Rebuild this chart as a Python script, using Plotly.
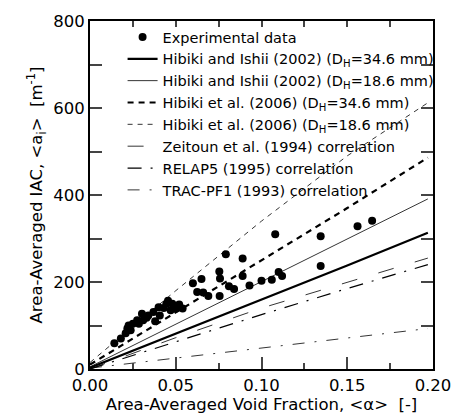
import plotly.graph_objects as go

# Experimental data (alpha, IAC)
exp_alpha = [0.0142, 0.018, 0.0208, 0.0218, 0.0225, 0.0237, 0.025, 0.0275, 0.0285, 0.0303,
             0.031, 0.033, 0.034, 0.037, 0.038, 0.040, 0.0407, 0.043, 0.0445, 0.0455,
             0.047, 0.048, 0.050, 0.052, 0.054, 0.060, 0.0625, 0.065, 0.066, 0.069,
             0.0756, 0.0754, 0.0758, 0.0792, 0.081, 0.084, 0.089, 0.089, 0.093, 0.100,
             0.106, 0.108, 0.110, 0.112, 0.1345, 0.1345, 0.156, 0.1645]
exp_iac = [59, 70, 82, 93, 100, 89, 104, 112, 104, 127,
           112, 118, 123, 131, 110, 142, 123, 140, 150, 157,
           135, 150, 139, 148, 139, 197, 177, 207, 176, 168,
           168, 224, 208, 264, 190, 184, 254, 214, 192, 203,
           205, 310, 223, 214, 305, 237, 328, 341]

# Correlation curves
line_alpha = [0.0, 0.05, 0.10, 0.15, 0.197]
hi2002_346 = [3, 81, 160, 238, 313]
hi2002_186 = [5, 103, 201, 299, 391]
h2006_346 = [10, 130, 252, 370, 486]
h2006_186 = [15, 180, 340, 490, 612]
zeitoun = [0, 72, 140, 200, 255]
relap5 = [0, 62, 125, 185, 240]
trac = [2, 25, 48, 72, 93]

FONT = "DejaVu Sans, Arial, sans-serif"

fig = go.Figure()
fig.add_trace(go.Scatter(x=exp_alpha, y=exp_iac, mode="markers", name="Experimental data",
                         marker=dict(color="black", size=8), legendgroup="a"))

curves = [
    ("Hibiki and Ishii (2002) (D<sub>H</sub>=34.6 mm)", hi2002_346, 2.2, "solid"),
    ("Hibiki and Ishii (2002) (D<sub>H</sub>=18.6 mm)", hi2002_186, 0.8, "solid"),
    ("Hibiki et al. (2006) (D<sub>H</sub>=34.6 mm)", h2006_346, 2.2, "6px,5px"),
    ("Hibiki et al. (2006) (D<sub>H</sub>=18.6 mm)", h2006_186, 0.8, "5px,5px"),
    ("Zeitoun et al. (1994) correlation", zeitoun, 0.8, "16px,22px"),
    ("RELAP5 (1995) correlation", relap5, 1.2, "14px,9px,2px,9px"),
    ("TRAC-PF1 (1993) correlation", trac, 0.8, "12px,10px,2px,10px"),
]
for i, (nm, ys, w, d) in enumerate(curves):
    fig.add_trace(go.Scatter(x=line_alpha, y=ys, mode="lines", name=nm,
                             line=dict(color="black", width=w, dash=d), legendgroup=f"g{i}"))

# invisible trace for top tick overlay axis
fig.add_trace(go.Scatter(x=[0], y=[0], xaxis="x2", yaxis="y", mode="markers",
                         marker=dict(opacity=0), showlegend=False, hoverinfo="skip"))

fig.update_layout(
    width=463, height=420,
    margin=dict(l=90, r=20, t=18, b=49),
    paper_bgcolor="white", plot_bgcolor="white",
    font=dict(family=FONT, color="black", size=16),
    showlegend=True,
    legend=dict(x=0.095, y=1.0, xanchor="left", yanchor="top",
                bgcolor="rgba(0,0,0,0)", font=dict(size=14.5, family=FONT),
                tracegroupgap=0),
    xaxis=dict(range=[0, 0.2], dtick=0.05, tickformat=".2f", ticks="inside", ticklen=12,
               tickwidth=1.5, showline=True, linewidth=2, linecolor="black", mirror=True,
               showgrid=False, zeroline=False,
               minor=dict(dtick=0.025, ticks="inside", ticklen=6, tickwidth=1.5, showgrid=False),
               title=dict(text="Area-Averaged Void Fraction, &lt;α&gt;  [-]", font=dict(size=16.5), standoff=2),
               tickfont=dict(size=16.5)),
    xaxis2=dict(range=[0, 0.2], overlaying="x", side="top", dtick=0.025, ticks="inside",
                ticklen=6, tickwidth=1.5, showticklabels=False, showgrid=False, zeroline=False,
                showline=False),
    yaxis=dict(range=[0, 800], dtick=200, ticks="inside", ticklen=12, tickwidth=1.5,
               showline=True, linewidth=2, linecolor="black", mirror="allticks",
               showgrid=False, zeroline=False,
               minor=dict(dtick=100, ticks="inside", ticklen=6, tickwidth=1.5, showgrid=False),
               title=dict(text="Area-Averaged IAC, &lt;a<sub>i</sub>&gt;  [m<sup>-1</sup>]", font=dict(size=16.5), standoff=6),
               tickfont=dict(size=16.5)),
)

fig.write_html("out.html")
